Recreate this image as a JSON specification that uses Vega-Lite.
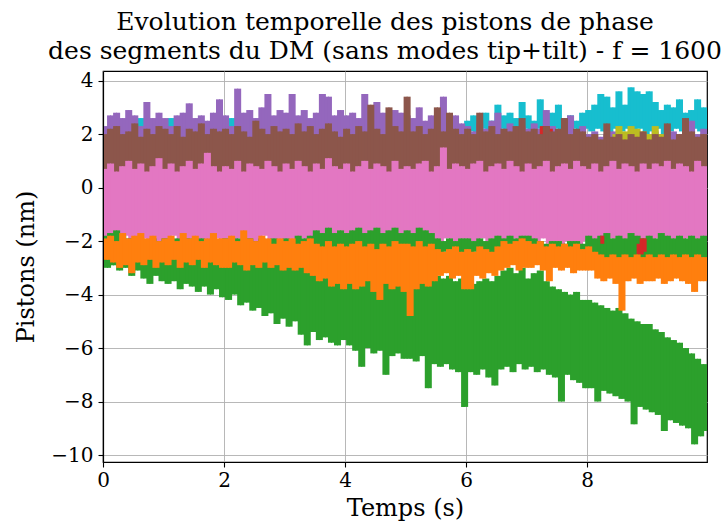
{
"$schema": "https://vega.github.io/schema/vega-lite/v6.json",
"width": 604, "height": 391,
"autosize": {"type": "none"},
"padding": {"left": 103, "top": 71, "right": 19, "bottom": 60},
"background": "white",
"title": {"text": ["Evolution temporelle des pistons de phase", "des segments du DM (sans modes tip+tilt) - f = 1600"], "font": "DejaVu Serif", "fontSize": 25, "fontWeight": "normal", "color": "black", "anchor": "middle", "dx": -20, "offset": 7, "lineHeight": 29},
"config": {
  "view": {"stroke": "black", "strokeWidth": 1.2},
  "axis": {"labelFont": "DejaVu Serif", "labelFontSize": 20, "labelColor": "black", "labelFlush": false, "titleFont": "DejaVu Serif", "titleFontSize": 24, "titleFontWeight": "normal", "titleColor": "black", "tickColor": "black", "tickSize": 5, "tickWidth": 1.1, "domainColor": "black", "domainWidth": 1.2, "gridColor": "#b0b0b0", "gridWidth": 0.9}
},
"data": {"values": [
{"t":0,"s01":1.9,"s02":2.3,"s05":2.0,"s06":0.7,"s07":-2.2,"s08":-1.8,"s10":-1.9},
{"t":0.05,"s01":1.3,"s02":1.6,"s05":0.3,"s06":-1.9,"s07":-3.0,"s08":-2.8,"s10":-2.7},
{"t":0.1,"s01":2.0,"s02":2.7,"s05":2.2,"s06":0.9,"s07":-2.1,"s08":-1.7,"s10":-1.8},
{"t":0.15,"s01":1.3,"s02":1.5,"s05":0.2,"s06":-2.1,"s07":-2.9,"s08":-2.9,"s10":-2.8},
{"t":0.2,"s01":1.9,"s02":2.8,"s05":2.3,"s06":0.6,"s07":-2.2,"s08":-1.6,"s10":-2.0},
{"t":0.25,"s01":1.2,"s02":1.7,"s05":0.4,"s06":-2.2,"s07":-3.1,"s08":-2.7,"s10":-3.0},
{"t":0.3,"s01":1.8,"s02":2.6,"s05":2.0,"s06":0.8,"s07":-2.3,"s08":-1.8,"s10":-1.7},
{"t":0.35,"s01":1.3,"s02":1.6,"s05":0.1,"s06":-1.8,"s07":-3.0,"s08":-2.8,"s10":-2.9},
{"t":0.4,"s01":1.9,"s02":2.9,"s05":2.1,"s06":1.0,"s07":-2.2,"s08":-1.9,"s10":-1.9},
{"t":0.45,"s01":1.4,"s02":1.5,"s05":0.5,"s06":-2.0,"s07":-3.3,"s08":-2.6,"s10":-3.2},
{"t":0.5,"s01":1.8,"s02":2.7,"s05":2.4,"s06":0.7,"s07":-2.2,"s08":-2.0,"s10":-1.8},
{"t":0.55,"s01":1.3,"s02":1.7,"s05":0.3,"s06":-2.3,"s07":-3.1,"s08":-2.5,"s10":-2.8},
{"t":0.6,"s01":2.6,"s02":2.3,"s05":1.9,"s06":0.9,"s07":-2.3,"s08":-1.9,"s10":-1.7},
{"t":0.65,"s01":1.4,"s02":1.6,"s05":0.2,"s06":-1.9,"s07":-3.4,"s08":-2.6,"s10":-2.9},
{"t":0.7,"s01":2.0,"s02":3.2,"s05":2.2,"s06":0.6,"s07":-2.2,"s08":-2.0,"s10":-1.9},
{"t":0.75,"s01":1.2,"s02":1.5,"s05":0.4,"s06":-2.1,"s07":-3.6,"s08":-2.7,"s10":-2.7},
{"t":0.8,"s01":1.9,"s02":2.6,"s05":2.0,"s06":0.8,"s07":-2.4,"s08":-1.9,"s10":-1.8},
{"t":0.85,"s01":1.3,"s02":1.6,"s05":0.0,"s06":-2.0,"s07":-3.3,"s08":-2.6,"s10":-3.0},
{"t":0.9,"s01":1.8,"s02":2.8,"s05":2.3,"s06":1.1,"s07":-2.3,"s08":-2.0,"s10":-2.0},
{"t":0.95,"s01":1.4,"s02":1.7,"s05":0.3,"s06":-2.2,"s07":-3.5,"s08":-2.5,"s10":-2.8},
{"t":1.0,"s01":1.8,"s02":2.6,"s05":2.2,"s06":0.7,"s07":-2.3,"s08":-1.9,"s10":-1.9},
{"t":1.05,"s01":1.3,"s02":1.6,"s05":0.4,"s06":-2.0,"s07":-3.6,"s08":-2.6,"s10":-2.9},
{"t":1.1,"s01":2.6,"s02":2.3,"s05":2.0,"s06":0.9,"s07":-2.4,"s08":-2.0,"s10":-1.8},
{"t":1.15,"s01":1.4,"s02":1.5,"s05":0.2,"s06":-1.8,"s07":-3.5,"s08":-2.7,"s10":-2.7},
{"t":1.2,"s01":2.0,"s02":2.7,"s05":2.3,"s06":0.6,"s07":-2.2,"s08":-1.9,"s10":-2.0},
{"t":1.25,"s01":1.2,"s02":1.7,"s05":0.3,"s06":-2.2,"s07":-3.8,"s08":-2.5,"s10":-3.0},
{"t":1.3,"s01":1.9,"s02":2.8,"s05":1.9,"s06":0.8,"s07":-2.4,"s08":-2.0,"s10":-1.7},
{"t":1.35,"s01":1.3,"s02":1.6,"s05":0.1,"s06":-2.1,"s07":-3.6,"s08":-2.6,"s10":-2.8},
{"t":1.4,"s01":1.8,"s02":3.15,"s05":2.2,"s06":1.0,"s07":-2.3,"s08":-1.9,"s10":-1.9},
{"t":1.45,"s01":1.4,"s02":1.5,"s05":0.5,"s06":-1.9,"s07":-3.7,"s08":-2.7,"s10":-2.9},
{"t":1.5,"s01":1.9,"s02":2.6,"s05":2.1,"s06":0.7,"s07":-2.5,"s08":-2.0,"s10":-1.8},
{"t":1.55,"s01":1.3,"s02":1.7,"s05":0.3,"s06":-2.3,"s07":-3.9,"s08":-2.6,"s10":-2.7},
{"t":1.6,"s01":1.8,"s02":2.7,"s05":2.4,"s06":0.9,"s07":-2.4,"s08":-1.9,"s10":-2.0},
{"t":1.65,"s01":1.3,"s02":1.6,"s05":0.2,"s06":-2.0,"s07":-3.7,"s08":-2.5,"s10":-3.0},
{"t":1.7,"s01":1.9,"s02":2.5,"s05":2.0,"s06":1.3,"s07":-2.4,"s08":-2.0,"s10":-1.9},
{"t":1.75,"s01":1.4,"s02":1.5,"s05":0.4,"s06":-2.1,"s07":-4.0,"s08":-2.6,"s10":-2.8},
{"t":1.8,"s01":2.0,"s02":2.8,"s05":2.2,"s06":0.8,"s07":-2.5,"s08":-1.9,"s10":-1.7},
{"t":1.85,"s01":1.2,"s02":1.6,"s05":0.0,"s06":-1.9,"s07":-3.8,"s08":-2.7,"s10":-2.9},
{"t":1.9,"s01":1.8,"s02":3.3,"s05":2.1,"s06":0.6,"s07":-2.4,"s08":-2.0,"s10":-1.9},
{"t":1.95,"s01":1.3,"s02":1.7,"s05":0.3,"s06":-2.2,"s07":-4.1,"s08":-2.6,"s10":-3.0},
{"t":2.0,"s01":1.9,"s02":2.7,"s05":2.2,"s06":0.8,"s07":-2.5,"s08":-1.9,"s10":-1.9},
{"t":2.05,"s01":1.3,"s02":1.6,"s05":0.3,"s06":-2.0,"s07":-4.2,"s08":-2.6,"s10":-3.0},
{"t":2.1,"s01":2.6,"s02":2.3,"s05":2.0,"s06":0.7,"s07":-2.6,"s08":-2.0,"s10":-1.8},
{"t":2.15,"s01":1.4,"s02":1.5,"s05":0.5,"s06":-2.3,"s07":-4.0,"s08":-2.5,"s10":-2.8},
{"t":2.2,"s01":1.8,"s02":3.7,"s05":2.3,"s06":1.0,"s07":-2.5,"s08":-1.9,"s10":-2.0},
{"t":2.25,"s01":1.3,"s02":1.7,"s05":0.2,"s06":-1.9,"s07":-4.4,"s08":-2.7,"s10":-2.9},
{"t":2.3,"s01":1.9,"s02":2.8,"s05":2.1,"s06":0.6,"s07":-2.6,"s08":-2.0,"s10":-1.6},
{"t":2.35,"s01":1.2,"s02":1.6,"s05":0.4,"s06":-2.1,"s07":-4.3,"s08":-2.6,"s10":-3.1},
{"t":2.4,"s01":2.0,"s02":2.9,"s05":1.9,"s06":0.9,"s07":-2.6,"s08":-1.9,"s10":-1.9},
{"t":2.45,"s01":1.4,"s02":1.5,"s05":0.1,"s06":-2.0,"s07":-4.6,"s08":-2.5,"s10":-2.9},
{"t":2.5,"s01":1.8,"s02":2.6,"s05":2.5,"s06":0.8,"s07":-2.7,"s08":-2.0,"s10":-2.0},
{"t":2.55,"s01":1.3,"s02":1.7,"s05":0.3,"s06":-2.2,"s07":-4.5,"s08":-2.6,"s10":-3.0},
{"t":2.6,"s01":1.9,"s02":3.0,"s05":2.2,"s06":0.7,"s07":-2.6,"s08":-1.9,"s10":-1.8},
{"t":2.65,"s01":1.3,"s02":1.6,"s05":0.4,"s06":-1.8,"s07":-4.8,"s08":-2.7,"s10":-2.8},
{"t":2.7,"s01":1.8,"s02":3.5,"s05":2.0,"s06":1.0,"s07":-2.7,"s08":-2.0,"s10":-1.9},
{"t":2.75,"s01":1.4,"s02":1.5,"s05":0.2,"s06":-2.1,"s07":-4.7,"s08":-2.6,"s10":-3.0},
{"t":2.8,"s01":2.0,"s02":2.7,"s05":2.3,"s06":0.8,"s07":-2.8,"s08":-1.9,"s10":-2.1},
{"t":2.85,"s01":1.2,"s02":1.7,"s05":0.3,"s06":-2.0,"s07":-5.1,"s08":-2.5,"s10":-2.9},
{"t":2.9,"s01":1.9,"s02":2.9,"s05":2.1,"s06":0.6,"s07":-2.7,"s08":-2.0,"s10":-1.9},
{"t":2.95,"s01":1.3,"s02":1.6,"s05":0.5,"s06":-2.3,"s07":-4.9,"s08":-2.6,"s10":-3.1},
{"t":3.0,"s01":1.8,"s02":2.8,"s05":2.2,"s06":0.9,"s07":-2.7,"s08":-1.9,"s10":-2.0},
{"t":3.05,"s01":1.3,"s02":1.6,"s05":0.3,"s06":-2.0,"s07":-5.2,"s08":-2.6,"s10":-3.0},
{"t":3.1,"s01":1.9,"s02":3.5,"s05":2.0,"s06":0.7,"s07":-2.8,"s08":-2.0,"s10":-1.9},
{"t":3.15,"s01":1.4,"s02":1.5,"s05":0.2,"s06":-2.1,"s07":-5.0,"s08":-2.5,"s10":-3.1},
{"t":3.2,"s01":2.0,"s02":2.7,"s05":2.4,"s06":1.0,"s07":-2.7,"s08":-1.8,"s10":-2.1},
{"t":3.25,"s01":1.2,"s02":1.7,"s05":0.4,"s06":-1.9,"s07":-5.5,"s08":-2.6,"s10":-3.0},
{"t":3.3,"s01":1.8,"s02":2.9,"s05":2.1,"s06":0.8,"s07":-2.8,"s08":-1.9,"s10":-2.0},
{"t":3.35,"s01":1.3,"s02":1.6,"s05":0.1,"s06":-2.2,"s07":-5.9,"s08":-2.7,"s10":-3.2},
{"t":3.4,"s01":1.9,"s02":2.6,"s05":2.3,"s06":0.6,"s07":-2.9,"s08":-1.8,"s10":-1.9},
{"t":3.45,"s01":1.4,"s02":1.5,"s05":0.3,"s06":-2.0,"s07":-5.4,"s08":-2.5,"s10":-3.3},
{"t":3.5,"s01":1.8,"s02":2.8,"s05":2.0,"s06":0.9,"s07":-2.8,"s08":-1.6,"s10":-2.1},
{"t":3.55,"s01":1.3,"s02":1.7,"s05":0.5,"s06":-2.3,"s07":-5.7,"s08":-2.6,"s10":-3.5},
{"t":3.6,"s01":1.9,"s02":3.5,"s05":2.2,"s06":0.7,"s07":-2.9,"s08":-1.7,"s10":-2.2},
{"t":3.65,"s01":1.3,"s02":1.6,"s05":0.2,"s06":-1.8,"s07":-5.6,"s08":-2.4,"s10":-3.4},
{"t":3.7,"s01":2.0,"s02":3.4,"s05":2.4,"s06":1.1,"s07":-3.0,"s08":-1.5,"s10":-2.0},
{"t":3.75,"s01":1.2,"s02":1.5,"s05":0.4,"s06":-2.1,"s07":-5.8,"s08":-2.5,"s10":-3.7},
{"t":3.8,"s01":1.8,"s02":2.7,"s05":2.1,"s06":0.8,"s07":-2.9,"s08":-1.7,"s10":-2.2},
{"t":3.85,"s01":1.4,"s02":1.7,"s05":0.3,"s06":-2.0,"s07":-5.9,"s08":-2.6,"s10":-3.6},
{"t":3.9,"s01":1.9,"s02":2.9,"s05":1.9,"s06":0.7,"s07":-3.0,"s08":-1.6,"s10":-2.1},
{"t":3.95,"s01":1.3,"s02":1.6,"s05":0.1,"s06":-2.2,"s07":-5.7,"s08":-2.4,"s10":-3.8},
{"t":4.0,"s01":1.8,"s02":2.7,"s05":2.2,"s06":0.9,"s07":-3.0,"s08":-1.7,"s10":-2.2},
{"t":4.05,"s01":1.3,"s02":1.5,"s05":0.3,"s06":-2.0,"s07":-5.9,"s08":-2.5,"s10":-3.6},
{"t":4.1,"s01":2.0,"s02":2.8,"s05":2.0,"s06":0.6,"s07":-3.1,"s08":-1.6,"s10":-2.1},
{"t":4.15,"s01":1.4,"s02":1.7,"s05":0.4,"s06":-2.3,"s07":-6.1,"s08":-2.6,"s10":-3.8},
{"t":4.2,"s01":1.9,"s02":2.6,"s05":2.3,"s06":0.8,"s07":-3.0,"s08":-1.5,"s10":-2.0},
{"t":4.25,"s01":1.2,"s02":1.6,"s05":0.2,"s06":-1.9,"s07":-6.7,"s08":-2.4,"s10":-3.7},
{"t":4.3,"s01":1.8,"s02":3.5,"s05":2.1,"s06":1.0,"s07":-3.1,"s08":-1.7,"s10":-2.2},
{"t":4.35,"s01":1.3,"s02":1.5,"s05":0.5,"s06":-2.1,"s07":-6.0,"s08":-2.5,"s10":-3.5},
{"t":4.4,"s01":1.9,"s02":2.7,"s05":3.1,"s06":0.7,"s07":-3.0,"s08":-1.6,"s10":-2.1},
{"t":4.45,"s01":1.4,"s02":1.7,"s05":0.3,"s06":-2.0,"s07":-6.2,"s08":-2.6,"s10":-3.9},
{"t":4.5,"s01":1.8,"s02":3.2,"s05":2.2,"s06":0.9,"s07":-3.1,"s08":-1.5,"s10":-2.3},
{"t":4.55,"s01":1.3,"s02":1.6,"s05":0.1,"s06":-2.2,"s07":-6.1,"s08":-2.5,"s10":-4.2},
{"t":4.6,"s01":2.0,"s02":2.8,"s05":2.0,"s06":0.8,"s07":-3.2,"s08":-1.7,"s10":-2.1},
{"t":4.65,"s01":1.2,"s02":1.5,"s05":0.4,"s06":-1.8,"s07":-7.0,"s08":-2.4,"s10":-3.6},
{"t":4.7,"s01":1.9,"s02":2.6,"s05":3.0,"s06":0.6,"s07":-3.1,"s08":-1.6,"s10":-2.2},
{"t":4.75,"s01":1.3,"s02":1.7,"s05":0.3,"s06":-2.3,"s07":-6.3,"s08":-2.6,"s10":-3.8},
{"t":4.8,"s01":1.8,"s02":2.9,"s05":2.3,"s06":1.0,"s07":-3.2,"s08":-1.5,"s10":-2.0},
{"t":4.85,"s01":1.4,"s02":1.6,"s05":0.2,"s06":-2.0,"s07":-6.2,"s08":-2.5,"s10":-3.7},
{"t":4.9,"s01":1.9,"s02":2.8,"s05":2.1,"s06":0.7,"s07":-3.1,"s08":-1.7,"s10":-2.1},
{"t":4.95,"s01":1.3,"s02":1.5,"s05":0.5,"s06":-2.1,"s07":-6.4,"s08":-2.4,"s10":-3.9},
{"t":5.0,"s01":1.8,"s02":2.7,"s05":3.4,"s06":0.8,"s07":-3.2,"s08":-1.6,"s10":-2.1},
{"t":5.05,"s01":1.3,"s02":1.6,"s05":0.3,"s06":-2.0,"s07":-6.4,"s08":-2.5,"s10":-4.8},
{"t":5.1,"s01":2.0,"s02":2.6,"s05":2.1,"s06":0.7,"s07":-3.3,"s08":-1.7,"s10":-2.2},
{"t":5.15,"s01":1.4,"s02":1.5,"s05":0.4,"s06":-2.2,"s07":-6.5,"s08":-2.6,"s10":-3.8},
{"t":5.2,"s01":1.9,"s02":3.0,"s05":2.3,"s06":0.9,"s07":-3.2,"s08":-1.5,"s10":-2.0},
{"t":5.25,"s01":1.2,"s02":1.7,"s05":0.2,"s06":-1.9,"s07":-6.3,"s08":-2.4,"s10":-3.6},
{"t":5.3,"s01":1.8,"s02":2.5,"s05":2.0,"s06":1.0,"s07":-3.3,"s08":-1.6,"s10":-2.2},
{"t":5.35,"s01":1.3,"s02":1.6,"s05":0.5,"s06":-2.1,"s07":-7.5,"s08":-2.5,"s10":-3.7},
{"t":5.4,"s01":1.9,"s02":2.7,"s05":2.2,"s06":0.6,"s07":-3.2,"s08":-1.7,"s10":-2.1},
{"t":5.45,"s01":1.4,"s02":1.5,"s05":0.3,"s06":-2.0,"s07":-6.6,"s08":-2.6,"s10":-3.5},
{"t":5.5,"s01":1.8,"s02":2.6,"s05":3.0,"s06":0.8,"s07":-3.3,"s08":-1.9,"s10":-2.3},
{"t":5.55,"s01":1.3,"s02":1.7,"s05":0.1,"s06":-2.3,"s07":-6.7,"s08":-2.5,"s10":-3.3},
{"t":5.6,"s01":1.9,"s02":3.4,"s05":2.1,"s06":1.5,"s07":-3.4,"s08":-2.0,"s10":-2.4},
{"t":5.65,"s01":1.3,"s02":1.6,"s05":0.4,"s06":-1.9,"s07":-6.6,"s08":-2.4,"s10":-3.2},
{"t":5.7,"s01":2.0,"s02":2.5,"s05":2.8,"s06":0.7,"s07":-3.3,"s08":-1.9,"s10":-2.3},
{"t":5.75,"s01":1.2,"s02":1.5,"s05":0.2,"s06":-2.1,"s07":-6.8,"s08":-2.5,"s10":-3.4},
{"t":5.8,"s01":1.8,"s02":2.7,"s05":2.2,"s06":0.9,"s07":-3.5,"s08":-2.0,"s10":-2.2},
{"t":5.85,"s01":1.4,"s02":1.7,"s05":0.3,"s06":-2.0,"s07":-6.9,"s08":-2.6,"s10":-3.3},
{"t":5.9,"s01":1.9,"s02":2.4,"s05":2.0,"s06":0.8,"s07":-3.4,"s08":-1.9,"s10":-2.4},
{"t":5.95,"s01":1.3,"s02":1.6,"s05":0.5,"s06":-2.2,"s07":-8.2,"s08":-2.5,"s10":-3.8},
{"t":6.0,"s01":2.5,"s02":2.3,"s05":2.2,"s06":0.7,"s07":-3.5,"s08":-1.9,"s10":-2.3},
{"t":6.05,"s01":2.1,"s02":1.4,"s05":0.3,"s06":-2.0,"s07":-6.9,"s08":-2.5,"s10":-3.8},
{"t":6.1,"s01":2.7,"s02":2.1,"s05":2.0,"s06":0.9,"s07":-3.6,"s08":-2.0,"s10":-2.4},
{"t":6.15,"s01":2.0,"s02":1.5,"s05":0.4,"s06":-2.2,"s07":-7.0,"s08":-2.4,"s10":-3.3},
{"t":6.2,"s01":2.6,"s02":2.4,"s05":2.8,"s06":1.0,"s07":-3.5,"s08":-1.9,"s10":-2.2},
{"t":6.25,"s01":2.2,"s02":1.3,"s05":0.2,"s06":-1.9,"s07":-6.8,"s08":-2.5,"s10":-3.4},
{"t":6.3,"s01":2.8,"s02":2.2,"s05":2.1,"s06":0.6,"s07":-3.4,"s08":-2.0,"s10":-2.3},
{"t":6.35,"s01":2.1,"s02":1.4,"s05":0.5,"s06":-2.1,"s07":-7.1,"s08":-2.6,"s10":-3.2},
{"t":6.4,"s01":2.5,"s02":2.5,"s05":2.3,"s06":0.8,"s07":-3.5,"s08":-1.9,"s10":-2.4},
{"t":6.45,"s01":2.0,"s02":1.5,"s05":0.3,"s06":-2.0,"s07":-7.4,"s08":-2.5,"s10":-3.3},
{"t":6.5,"s01":3.1,"s02":2.8,"s05":2.0,"s06":0.9,"s07":-3.3,"s08":-1.8,"s10":-2.2},
{"t":6.55,"s01":2.2,"s02":1.4,"s05":0.1,"s06":-2.7,"s07":-6.8,"s08":-2.7,"s10":-3.1},
{"t":6.6,"s01":2.7,"s02":2.2,"s05":2.2,"s06":0.7,"s07":-3.1,"s08":-1.9,"s10":-2.0},
{"t":6.65,"s01":2.1,"s02":1.5,"s05":0.4,"s06":-2.1,"s07":-6.7,"s08":-2.6,"s10":-3.0},
{"t":6.7,"s01":2.8,"s02":2.4,"s05":2.1,"s06":1.0,"s07":-3.0,"s08":-1.8,"s10":-2.1},
{"t":6.75,"s01":2.0,"s02":1.3,"s05":0.2,"s06":-1.9,"s07":-6.9,"s08":-2.7,"s10":-2.9},
{"t":6.8,"s01":2.6,"s02":2.1,"s05":2.3,"s06":0.8,"s07":-3.2,"s08":-1.9,"s10":-2.0},
{"t":6.85,"s01":2.1,"s02":1.4,"s05":0.3,"s06":-2.2,"s07":-6.6,"s08":-2.6,"s10":-3.1},
{"t":6.9,"s01":3.2,"s02":2.3,"s05":2.6,"s06":0.6,"s07":-3.0,"s08":-1.8,"s10":-1.9},
{"t":6.95,"s01":2.2,"s02":1.5,"s05":0.4,"s06":-2.0,"s07":-6.8,"s08":-2.7,"s10":-3.0},
{"t":7.0,"s01":2.7,"s02":2.2,"s05":2.1,"s06":0.9,"s07":-3.4,"s08":-1.8,"s10":-2.0},
{"t":7.05,"s01":2.1,"s02":1.4,"s05":0.3,"s06":-2.0,"s07":-6.7,"s08":-2.7,"s10":-3.0},
{"t":7.1,"s01":2.5,"s02":2.4,"s05":2.2,"s06":0.7,"s07":-3.2,"s08":-1.9,"s10":-2.1},
{"t":7.15,"s01":2.2,"s02":1.5,"s05":0.2,"s06":-2.2,"s07":-6.9,"s08":-2.6,"s10":-2.9},
{"t":7.2,"s01":3.3,"s02":2.2,"s03":2.3,"s05":2.0,"s06":0.8,"s07":-3.1,"s08":-2.0,"s10":-2.0},
{"t":7.25,"s01":2.0,"s02":1.3,"s03":1.9,"s05":0.5,"s06":-1.9,"s07":-6.8,"s08":-2.5,"s10":-3.1},
{"t":7.3,"s01":2.6,"s02":2.9,"s03":2.3,"s05":2.3,"s06":1.0,"s07":-3.5,"s08":-2.1,"s10":-2.2},
{"t":7.35,"s01":2.1,"s02":1.4,"s03":1.9,"s05":0.3,"s06":-2.1,"s07":-7.0,"s08":-2.5,"s10":-3.5},
{"t":7.4,"s01":2.8,"s02":2.3,"s03":2.2,"s05":2.1,"s06":0.6,"s07":-3.7,"s08":-2.0,"s10":-2.1},
{"t":7.45,"s01":2.2,"s02":1.5,"s05":0.4,"s06":-2.0,"s07":-7.1,"s08":-2.4,"s10":-3.0},
{"t":7.5,"s01":3.1,"s02":2.1,"s05":2.2,"s06":0.8,"s07":-3.8,"s08":-2.0,"s10":-2.2},
{"t":7.55,"s01":2.1,"s02":1.4,"s05":0.1,"s06":-2.3,"s07":-8.0,"s08":-2.5,"s10":-3.1},
{"t":7.6,"s01":2.6,"s02":2.2,"s05":2.6,"s06":0.9,"s07":-3.9,"s08":-2.1,"s10":-2.1},
{"t":7.65,"s01":2.0,"s02":1.5,"s05":0.3,"s06":-2.0,"s07":-7.0,"s08":-2.4,"s10":-3.0},
{"t":7.7,"s01":2.7,"s02":2.7,"s05":2.0,"s06":0.7,"s07":-4.0,"s08":-2.0,"s10":-2.2},
{"t":7.75,"s01":2.2,"s02":1.4,"s05":0.4,"s06":-2.1,"s07":-7.2,"s08":-2.5,"s10":-3.2},
{"t":7.8,"s01":2.5,"s02":2.1,"s05":2.2,"s06":1.0,"s07":-3.9,"s08":-2.0,"s10":-2.1},
{"t":7.85,"s01":2.1,"s02":1.5,"s05":0.2,"s06":-2.9,"s07":-7.3,"s08":-2.4,"s10":-3.1},
{"t":7.9,"s01":2.8,"s02":2.3,"s05":2.1,"s06":0.8,"s07":-4.2,"s08":-2.1,"s10":-2.3},
{"t":7.95,"s01":2.2,"s02":1.4,"s05":0.3,"s06":-2.0,"s07":-7.5,"s08":-2.5,"s10":-3.1},
{"t":8.0,"s01":2.9,"s02":2.0,"s05":1.9,"s06":0.7,"s07":-4.2,"s08":-1.8,"s10":-2.2},
{"t":8.05,"s01":2.1,"s02":1.4,"s05":0.4,"s06":-2.6,"s07":-7.5,"s08":-2.9,"s10":-3.1},
{"t":8.1,"s01":3.1,"s02":2.1,"s05":2.0,"s06":0.9,"s07":-4.3,"s08":-1.9,"s10":-2.4},
{"t":8.15,"s01":2.2,"s02":1.5,"s05":0.3,"s06":-2.0,"s07":-8.0,"s08":-3.0,"s10":-3.4},
{"t":8.2,"s01":3.5,"s02":1.9,"s05":1.8,"s06":0.6,"s07":-4.4,"s08":-1.8,"s09":-1.8,"s10":-2.5},
{"t":8.25,"s01":2.1,"s02":1.4,"s05":0.5,"s06":-2.2,"s07":-7.6,"s08":-2.8,"s09":-2.1,"s10":-3.5},
{"t":8.3,"s01":3.4,"s02":2.0,"s05":2.4,"s06":0.8,"s07":-4.5,"s08":-1.7,"s10":-2.6},
{"t":8.35,"s01":2.0,"s02":1.3,"s05":0.3,"s06":-1.9,"s07":-7.7,"s08":-3.0,"s10":-3.4},
{"t":8.4,"s01":3.0,"s02":2.1,"s04":2.0,"s05":1.9,"s06":1.0,"s07":-4.6,"s08":-1.9,"s10":-2.5},
{"t":8.45,"s01":2.2,"s02":1.5,"s04":1.3,"s05":0.4,"s06":-2.1,"s07":-7.8,"s08":-2.9,"s10":-3.6},
{"t":8.5,"s01":3.6,"s02":2.0,"s04":2.3,"s05":2.0,"s06":0.7,"s07":-4.5,"s08":-1.8,"s10":-2.6},
{"t":8.55,"s01":2.1,"s02":1.4,"s04":1.4,"s05":0.2,"s06":-2.0,"s07":-7.9,"s08":-3.0,"s10":-4.6},
{"t":8.6,"s01":3.1,"s02":1.9,"s04":2.1,"s05":1.8,"s06":0.9,"s07":-4.7,"s08":-1.9,"s10":-2.5},
{"t":8.65,"s01":2.2,"s02":1.5,"s04":1.3,"s05":0.4,"s06":-2.2,"s07":-8.0,"s08":-2.9,"s10":-3.5},
{"t":8.7,"s01":3.75,"s02":2.1,"s04":2.3,"s05":2.0,"s06":0.8,"s07":-4.9,"s08":-1.7,"s10":-2.6},
{"t":8.75,"s01":2.1,"s02":1.3,"s04":1.4,"s05":0.3,"s06":-1.9,"s07":-8.85,"s08":-3.0,"s10":-3.4},
{"t":8.8,"s01":3.6,"s02":2.0,"s04":2.2,"s05":1.9,"s06":0.6,"s07":-5.0,"s08":-1.8,"s10":-2.5},
{"t":8.85,"s01":2.2,"s02":1.4,"s04":1.3,"s05":0.5,"s06":-2.1,"s07":-8.2,"s08":-2.9,"s09":-2.5,"s10":-3.6},
{"t":8.9,"s01":3.5,"s02":2.0,"s04":2.1,"s05":2.1,"s06":0.9,"s07":-5.1,"s08":-1.9,"s09":-1.9,"s10":-2.6},
{"t":8.95,"s01":2.0,"s02":1.5,"s04":1.4,"s05":0.3,"s06":-2.0,"s07":-8.3,"s08":-3.0,"s09":-2.4,"s10":-3.5},
{"t":9.0,"s01":3.6,"s02":1.9,"s04":2.0,"s05":1.8,"s06":0.7,"s07":-5.1,"s08":-1.8,"s10":-2.5},
{"t":9.05,"s01":2.1,"s02":1.4,"s04":1.3,"s05":0.4,"s06":-2.2,"s07":-8.4,"s08":-2.9,"s10":-3.5},
{"t":9.1,"s01":3.2,"s02":2.1,"s04":2.3,"s05":2.0,"s06":0.9,"s07":-5.3,"s08":-1.9,"s10":-2.6},
{"t":9.15,"s01":2.2,"s02":1.5,"s04":1.4,"s05":0.3,"s06":-1.9,"s07":-8.5,"s08":-3.0,"s10":-3.4},
{"t":9.2,"s01":2.9,"s02":2.0,"s04":2.0,"s05":1.9,"s06":0.8,"s07":-5.4,"s08":-1.7,"s10":-2.5},
{"t":9.25,"s01":2.0,"s02":1.3,"s04":1.3,"s05":0.5,"s06":-2.0,"s07":-9.1,"s08":-2.9,"s10":-3.6},
{"t":9.3,"s01":3.1,"s02":1.9,"s04":2.1,"s05":2.4,"s06":1.0,"s07":-5.6,"s08":-1.8,"s10":-2.6},
{"t":9.35,"s01":2.1,"s02":1.5,"s05":0.3,"s06":-2.1,"s07":-8.7,"s08":-3.0,"s10":-3.5},
{"t":9.4,"s01":3.0,"s02":2.1,"s05":1.8,"s06":0.7,"s07":-5.7,"s08":-1.9,"s10":-2.5},
{"t":9.45,"s01":2.2,"s02":1.4,"s05":0.4,"s06":-2.0,"s07":-8.8,"s08":-2.9,"s10":-3.4},
{"t":9.5,"s01":3.3,"s02":2.0,"s05":2.0,"s06":0.9,"s07":-5.8,"s08":-1.8,"s10":-2.6},
{"t":9.55,"s01":2.1,"s02":1.5,"s05":0.2,"s06":-2.2,"s07":-8.9,"s08":-3.0,"s10":-3.5},
{"t":9.6,"s01":2.8,"s02":1.9,"s05":2.6,"s06":0.8,"s07":-6.0,"s08":-1.9,"s10":-2.5},
{"t":9.65,"s01":2.0,"s02":1.4,"s05":0.4,"s06":-1.9,"s07":-9.0,"s08":-2.9,"s10":-3.6},
{"t":9.7,"s01":2.9,"s02":2.5,"s05":2.1,"s06":0.6,"s07":-6.2,"s08":-1.8,"s10":-2.6},
{"t":9.75,"s01":2.2,"s02":1.5,"s05":0.3,"s06":-2.1,"s07":-9.6,"s08":-3.0,"s10":-3.9},
{"t":9.8,"s01":3.3,"s02":2.0,"s05":1.9,"s06":1.0,"s07":-6.4,"s08":-1.9,"s10":-2.5},
{"t":9.85,"s01":2.1,"s02":1.4,"s05":0.5,"s06":-2.0,"s07":-9.3,"s08":-2.9,"s10":-3.5},
{"t":9.9,"s01":3.0,"s02":2.2,"s05":2.0,"s06":0.8,"s07":-6.6,"s08":-1.8,"s10":-2.6},
{"t":9.95,"s01":2.1,"s02":1.5,"s05":0.3,"s06":-2.1,"s07":-9.1,"s08":-2.9,"s10":-3.5}
]},
"transform": [
  {"fold": ["s01","s02","s03","s04","s05","s06","s07","s08","s09","s10"], "as": ["serie","v"]},
  {"filter": "isValid(datum.v)"},
  {"window": [{"op": "lag", "field": "v", "as": "vp"}], "groupby": ["serie"], "sort": [{"field": "t", "order": "ascending"}]},
  {"filter": "isValid(datum.vp)"}
],
"mark": {"type": "rule", "strokeWidth": 4, "clip": true},
"encoding": {
  "x": {"field": "t", "type": "quantitative", "scale": {"domain": [0, 9.98], "nice": false, "zero": false},
        "axis": {"values": [0,2,4,6,8], "title": "Temps (s)", "labelPadding": 3, "titlePadding": 6}},
  "y": {"field": "v", "type": "quantitative", "scale": {"domain": [-10.26, 4.36], "nice": false, "zero": false},
        "axis": {"values": [-10,-8,-6,-4,-2,0,2,4], "title": "Pistons (nm)", "labelPadding": 5, "titlePadding": 12}},
  "y2": {"field": "vp"},
  "order": {"field": "serie", "type": "ordinal", "sort": "ascending"},
  "color": {"field": "serie", "type": "nominal", "legend": null,
            "scale": {"domain": ["s01","s02","s03","s04","s05","s06","s07","s08","s09","s10"],
                      "range": ["#17becf","#9467bd","#d62728","#bcbd22","#8c564b","#e377c2","#2ca02c","#2ca02c","#d62728","#ff7f0e"]}}
}
}
